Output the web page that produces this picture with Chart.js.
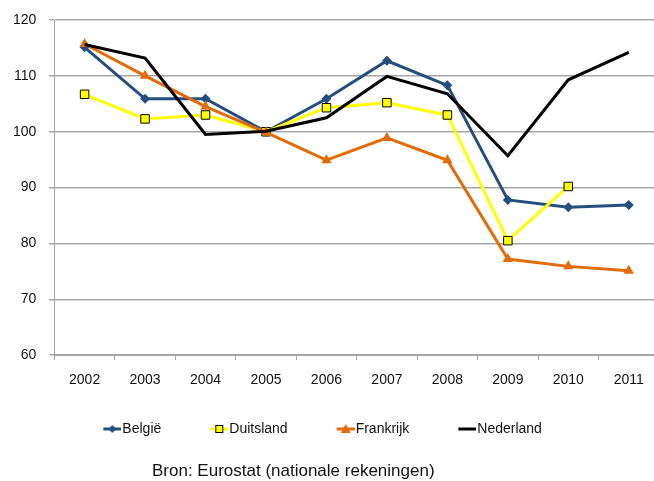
<!DOCTYPE html>
<html>
<head>
<meta charset="utf-8">
<script src="https://cdn.jsdelivr.net/npm/chart.js@4.4.1/dist/chart.umd.min.js"></script>
<style>
    html, body { margin: 0; padding: 0; background: #fff; overflow: hidden; }
    #wrap { position: relative; width: 666px; height: 481px; }
    #bron {
        position: absolute; left: 152px; top: 460px;
        font-family: 'Liberation Sans', Arial, sans-serif;
        font-size: 17px; color: #111; white-space: nowrap; line-height: 22px;
    }
</style>
</head>
<body>
<div id="wrap">
    <canvas id="chart" width="666" height="481"></canvas>
    <div id="bron">Bron: Eurostat (nationale rekeningen)</div>
</div>
<script>
// Data
const years = ['2002', '2003', '2004', '2005', '2006', '2007', '2008', '2009', '2010', '2011'];
const belgie = [115.1, 105.9, 105.9, 100.0, 105.9, 112.7, 108.3, 87.8, 86.5, 86.9];
const duitsland = [106.7, 102.3, 103.0, 100.0, 104.3, 105.2, 103.0, 80.5, 90.2, null];
const frankrijk = [115.7, 110.0, 104.5, 99.9, 94.9, 98.9, 94.9, 77.2, 75.9, 75.1];
const nederland = [115.6, 113.2, 99.5, 100.1, 102.5, 109.9, 106.8, 95.7, 109.3, 114.2];
const yTicks = { min: 60, max: 120, step: 10 };

const FONT = "'Liberation Sans', Arial, sans-serif";
const colors = {
    belgie: '#254e7e',
    duitsland: '#ffff00',
    frankrijk: '#e36c09',
    nederland: '#000000',
    grid: '#a6a6a6',
    text: '#111111'
};

// legend icon: a short line with the series marker, drawn at the right end of the box
const BOX_W = 40;
const makeIcon = (lineColor, marker) => {
    const c = document.createElement('canvas');
    c.width = BOX_W + 12; c.height = 12;
    const g = c.getContext('2d');
    const x0 = c.width - 18;
    const mid = x0 + 9;
    g.strokeStyle = lineColor;
    g.lineWidth = 3;
    g.beginPath(); g.moveTo(x0, 6); g.lineTo(x0 + 18, 6); g.stroke();
    if (marker === 'diamond') {
        g.fillStyle = lineColor;
        g.beginPath(); g.moveTo(mid, 2); g.lineTo(mid + 4, 6); g.lineTo(mid, 10); g.lineTo(mid - 4, 6); g.closePath(); g.fill();
    } else if (marker === 'square') {
        g.fillStyle = '#ffff00'; g.strokeStyle = '#000'; g.lineWidth = 1;
        g.fillRect(mid - 4, 2, 8, 8); g.strokeRect(mid - 3.5, 2.5, 7, 7);
    } else if (marker === 'triangle') {
        g.fillStyle = lineColor;
        g.beginPath(); g.moveTo(mid, 1); g.lineTo(mid + 5, 10); g.lineTo(mid - 5, 10); g.closePath(); g.fill();
    }
    return c;
};

const icons = [
    makeIcon(colors.belgie, 'diamond'),
    makeIcon(colors.duitsland, 'square'),
    makeIcon(colors.frankrijk, 'triangle'),
    makeIcon(colors.nederland, null)
];

new Chart(document.getElementById('chart'), {
    type: 'line',
    data: {
        labels: years,
        datasets: [
            {
                label: 'België',
                data: belgie,
                borderColor: colors.belgie,
                backgroundColor: colors.belgie,
                borderWidth: 3,
                pointStyle: 'rectRot',
                pointRadius: 5,
                pointBorderWidth: 0,
                order: 4
            },
            {
                label: 'Duitsland',
                data: duitsland,
                borderColor: colors.duitsland,
                backgroundColor: colors.duitsland,
                borderWidth: 3,
                pointStyle: 'rect',
                pointRadius: 6,
                pointBorderColor: '#000',
                pointBorderWidth: 1,
                order: 3
            },
            {
                label: 'Frankrijk',
                data: frankrijk,
                borderColor: colors.frankrijk,
                backgroundColor: colors.frankrijk,
                borderWidth: 3,
                pointStyle: 'triangle',
                pointRadius: 6,
                pointBorderWidth: 0,
                order: 2
            },
            {
                label: 'Nederland',
                data: nederland,
                borderColor: colors.nederland,
                backgroundColor: colors.nederland,
                borderWidth: 3,
                pointRadius: 0,
                order: 1
            }
        ]
    },
    options: {
        responsive: false,
        animation: false,
        layout: { padding: { left: 0, top: 0, right: 0, bottom: 35 } },
        plugins: {
            legend: {
                position: 'bottom',
                fullSize: false,
                align: 'start',
                labels: {
                    usePointStyle: true,
                    pointStyleWidth: BOX_W,
                    padding: 21,
                    color: colors.text,
                    font: { family: FONT, size: 14 },
                    generateLabels: (chart) => {
                        const items = Chart.defaults.plugins.legend.labels.generateLabels(chart);
                        items.sort((a, b) => a.datasetIndex - b.datasetIndex);
                        items.forEach(it => { it.pointStyle = icons[it.datasetIndex]; });
                        return items;
                    }
                }
            },
            tooltip: { enabled: false }
        },
        scales: {
            x: {
                offset: true,
                grid: {
                    offset: true,
                    drawOnChartArea: false,
                    drawTicks: true,
                    tickLength: 5,
                    color: colors.grid
                },
                border: { color: colors.grid, width: 1 },
                ticks: {
                    color: colors.text,
                    padding: 12,
                    maxRotation: 0,
                    font: { family: FONT, size: 14 }
                }
            },
            y: {
                min: yTicks.min,
                max: yTicks.max,
                grid: {
                    color: colors.grid,
                    lineWidth: 1.5,
                    tickLength: 5
                },
                border: { color: colors.grid, width: 1 },
                ticks: {
                    stepSize: yTicks.step,
                    color: colors.text,
                    padding: 13,
                    font: { family: FONT, size: 14, lineHeight: 1 }
                }
            }
        }
    }
});
</script>
</body>
</html>
